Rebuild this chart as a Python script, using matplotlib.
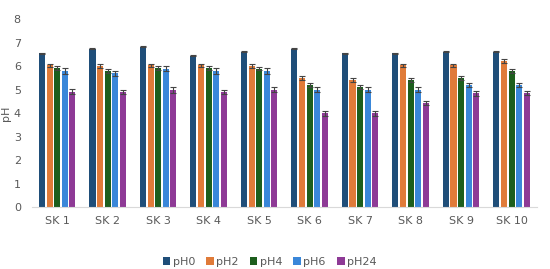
import numpy as np
import matplotlib.pyplot as plt

# samples and pH series
samples = ["SK 1", "SK 2", "SK 3", "SK 4", "SK 5", "SK 6", "SK 7", "SK 8", "SK 9", "SK 10"]
series = ["pH0", "pH2", "pH4", "pH6", "pH24"]

ph0 = [6.55, 6.74, 6.83, 6.45, 6.62, 6.74, 6.55, 6.55, 6.62, 6.62]
ph2 = [6.03, 6.02, 6.03, 6.03, 6.02, 5.49, 5.40, 6.03, 6.03, 6.22]
ph4 = [5.91, 5.80, 5.91, 5.91, 5.90, 5.20, 5.10, 5.40, 5.49, 5.81]
ph6 = [5.80, 5.69, 5.90, 5.80, 5.80, 5.00, 5.00, 5.00, 5.20, 5.20]
ph24 = [4.92, 4.90, 4.99, 4.90, 5.00, 4.00, 4.00, 4.43, 4.85, 4.85]

err0 = [0.03, 0.02, 0.03, 0.02, 0.03, 0.02, 0.03, 0.03, 0.03, 0.03]
err2 = [0.08, 0.08, 0.08, 0.08, 0.08, 0.08, 0.08, 0.08, 0.08, 0.08]
err4 = [0.08, 0.08, 0.08, 0.08, 0.08, 0.08, 0.08, 0.08, 0.08, 0.08]
err6 = [0.12, 0.10, 0.12, 0.12, 0.12, 0.10, 0.10, 0.10, 0.10, 0.10]
err24 = [0.10, 0.10, 0.12, 0.10, 0.10, 0.10, 0.10, 0.10, 0.10, 0.08]

values = [ph0, ph2, ph4, ph6, ph24]
errors = [err0, err2, err4, err6, err24]
colors = ["#1f4e79", "#e07b39", "#1d5e1d", "#3a87d9", "#8e3a96"]

fig = plt.figure(figsize=(5.5, 2.69), dpi=100)
ax = fig.add_axes([0.058, 0.229, 0.918, 0.70])

x = np.arange(len(samples))
width = 0.12
step = 0.15
for i, (name, vals, errs, c) in enumerate(zip(series, values, errors, colors)):
    ax.bar(x + (i - 2) * step, vals, width, color=c, label=name,
           yerr=errs, capsize=2, error_kw=dict(ecolor="#444444", elinewidth=0.8, capthick=0.8))

ax.set_xlim(-0.5, len(samples) - 0.5)
ax.set_ylim(0, 8)
ax.set_xticks(x)
ax.set_xticklabels(samples, fontsize=8, color="#595959")
ax.set_yticks(range(0, 9))
ax.tick_params(axis="y", labelsize=8, labelcolor="#595959", length=0, pad=8)
ax.tick_params(axis="x", length=0, pad=6)
ax.set_ylabel("pH", fontsize=8, color="#595959", labelpad=2)

for s in ["top", "right", "left"]:
    ax.spines[s].set_visible(False)
ax.spines["bottom"].set_color("#d9d9d9")

fig.legend(loc="lower center", ncol=5, fontsize=8, frameon=False,
           handlelength=0.7, handleheight=0.7, handletextpad=0.2, columnspacing=1.0,
           bbox_to_anchor=(0.49, -0.03), labelcolor="#595959")

fig.savefig("out.png", dpi=100)
